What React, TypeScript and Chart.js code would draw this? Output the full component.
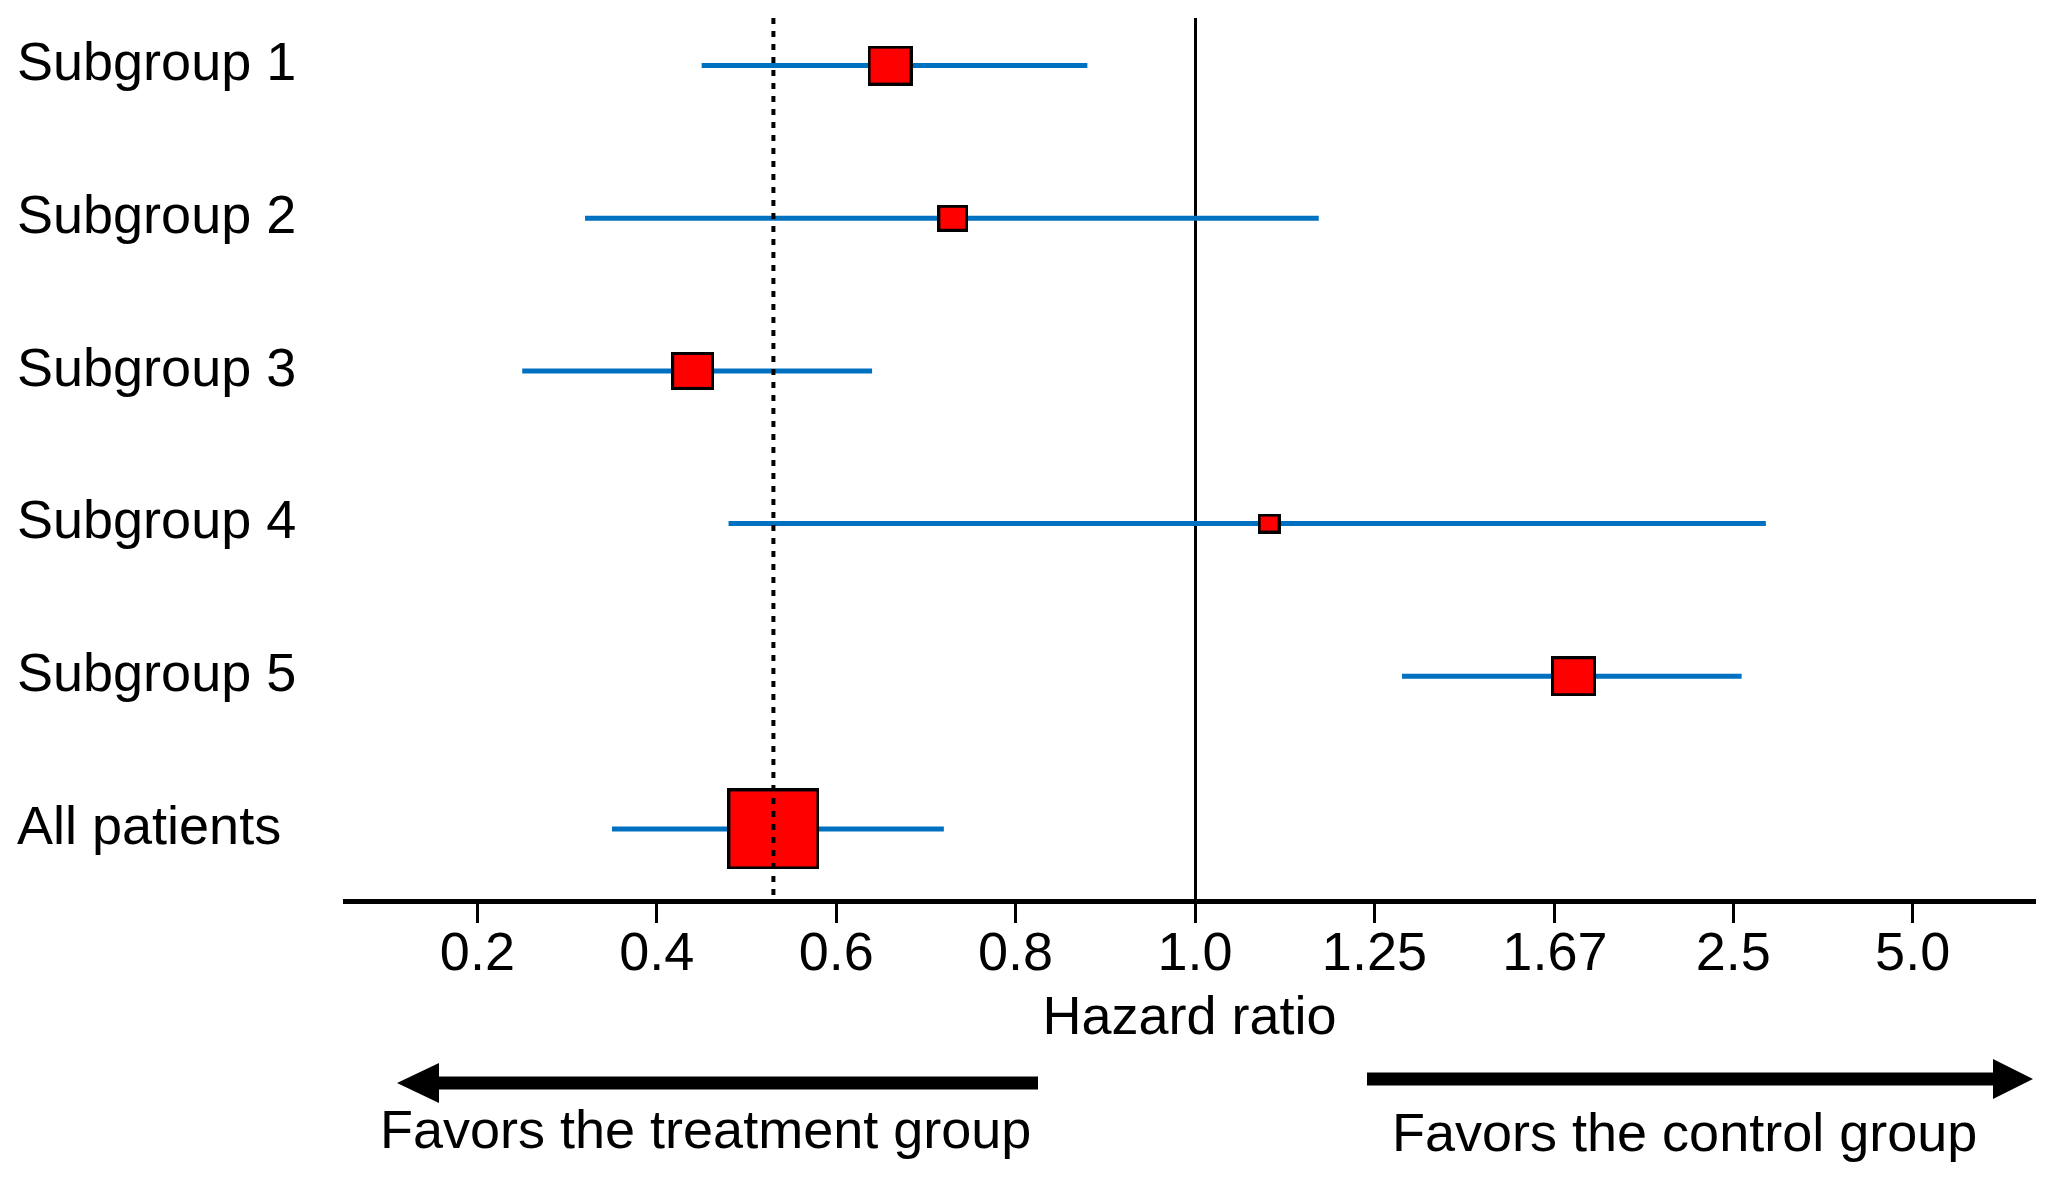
import { useEffect, useRef } from 'react';
import { Chart, registerables } from 'chart.js';

Chart.register(...registerables);

// ---------- data ----------
const rowLabels = ['Subgroup 1', 'Subgroup 2', 'Subgroup 3', 'Subgroup 4', 'Subgroup 5', 'All patients'];
const hazardRatio = [0.66, 0.73, 0.44, 1.09, 1.73, 0.53];
const ciLower = [0.45, 0.32, 0.25, 0.48, 1.3, 0.35];
const ciUpper = [0.88, 1.16, 0.64, 2.75, 2.56, 0.72];
const weights = [24, 11, 22, 6, 24, 100];
const tickValues = [0.2, 0.4, 0.6, 0.8, 1.0, 1.25, 1.67, 2.5, 5.0];
const tickLabels = ['0.2', '0.4', '0.6', '0.8', '1.0', '1.25', '1.67', '2.5', '5.0'];
const overallHR = hazardRatio[5];

// axis transform: HR <= 1 on a linear scale, HR > 1 mirrored as 2 - 1/HR
const toAxis = (hr: number) => (hr <= 1 ? hr : 2 - 1 / hr);

const X_MIN = 0.0524;
const X_MAX = 1.9353;
const Y_MIN = -0.3116;
const Y_MAX = 5.4724;

const FONT = '"Liberation Sans", Arial, sans-serif';
const BLUE = '#0070C0';

function makeBox(weight: number): HTMLCanvasElement {
  const f = Math.sqrt(weight / 100);
  const w = Math.round(92 * f);
  const h = Math.round(81 * f);
  const c = document.createElement('canvas');
  c.width = w;
  c.height = h;
  const g = c.getContext('2d')!;
  g.fillStyle = '#FF0000';
  g.fillRect(0, 0, w, h);
  g.strokeStyle = '#000000';
  g.lineWidth = 3;
  g.strokeRect(1.5, 1.5, w - 3, h - 3);
  return c;
}

const favorsPlugin = {
  id: 'favors',
  afterDraw(chart: any) {
    const ctx = chart.ctx as CanvasRenderingContext2D;
    ctx.save();
    ctx.fillStyle = '#000';
    // left arrow
    ctx.fillRect(429, 1068.5, 1030 - 429, 13);
    ctx.beginPath();
    ctx.moveTo(389, 1075);
    ctx.lineTo(431, 1055);
    ctx.lineTo(431, 1095);
    ctx.closePath();
    ctx.fill();
    // right arrow
    ctx.fillRect(1359, 1064.5, 1987 - 1359, 13);
    ctx.beginPath();
    ctx.moveTo(2025, 1071);
    ctx.lineTo(1985, 1051);
    ctx.lineTo(1985, 1091);
    ctx.closePath();
    ctx.fill();
    ctx.font = `54px ${FONT}`;
    ctx.textAlign = 'left';
    ctx.textBaseline = 'alphabetic';
    ctx.fillText('Favors the treatment group', 372, 1140);
    ctx.fillText('Favors the control group', 1384, 1143);
    ctx.restore();
  },
};

export default function App() {
  const ref = useRef<HTMLCanvasElement>(null);

  useEffect(() => {
    const boxes = weights.map(makeBox);
    const ciSets = rowLabels.map((_, i) => ({
      label: `ci-${i}`,
      data: [
        { x: toAxis(ciLower[i]), y: i },
        { x: toAxis(ciUpper[i]), y: i },
      ],
      showLine: true,
      borderColor: BLUE,
      borderWidth: 5,
      borderCapStyle: 'butt' as const,
      pointRadius: 0,
      order: 2,
    }));

    const chart = new Chart(ref.current!, {
      type: 'scatter',
      data: {
        datasets: [
          {
            label: 'overall',
            data: [
              { x: toAxis(overallHR), y: Y_MIN },
              { x: toAxis(overallHR), y: Y_MAX },
            ],
            showLine: true,
            borderColor: '#000',
            borderWidth: 4,
            borderDash: [6, 7],
            pointRadius: 0,
            order: 0,
          } as any,
          {
            label: 'hr',
            data: hazardRatio.map((hr, i) => ({ x: toAxis(hr), y: i })),
            pointStyle: (c: any) => boxes[c.dataIndex],
            pointRadius: 10,
            pointBorderWidth: 0,
            showLine: false,
            order: 1,
          } as any,
          ...ciSets,
        ],
      },
      options: {
        animation: false,
        responsive: true,
        maintainAspectRatio: false,
        events: [],
        layout: { padding: { left: 9, right: 10, top: 4, bottom: 0 } },
        plugins: { legend: { display: false }, tooltip: { enabled: false } },
        scales: {
          x: {
            type: 'linear',
            min: X_MIN,
            max: X_MAX,
            afterBuildTicks: (s: any) => {
              s.ticks = tickValues.map((v) => ({ value: toAxis(v) }));
            },
            afterFit: (s: any) => {
              s.height = 271;
              s.paddingLeft = 0;
              s.paddingRight = 0;
            },
            ticks: {
              autoSkip: false,
              maxRotation: 0,
              padding: 0,
              color: '#000',
              font: { family: FONT, size: 54, lineHeight: 1.2 },
              callback: (_v: any, idx: number) => tickLabels[idx],
            },
            grid: {
              drawOnChartArea: true,
              drawTicks: true,
              tickLength: 22,
              tickColor: '#000',
              tickWidth: 3,
              lineWidth: 3,
              color: (c: any) => (c.tick && Math.abs(c.tick.value - 1) < 1e-9 ? '#000' : 'rgba(0,0,0,0)'),
            },
            border: { display: true, color: '#000', width: 5 },
            title: {
              display: true,
              text: 'Hazard ratio',
              color: '#000',
              font: { family: FONT, size: 54, lineHeight: 1.2 },
              padding: { top: 0, bottom: 120 },
            },
          },
          y: {
            type: 'linear',
            reverse: true,
            min: Y_MIN,
            max: Y_MAX,
            afterBuildTicks: (s: any) => {
              s.ticks = rowLabels.map((_, i) => ({ value: i }));
            },
            afterFit: (s: any) => {
              s.width = 328;
              s.paddingTop = 0;
              s.paddingBottom = 0;
            },
            ticks: {
              crossAlign: 'far',
              color: '#000',
              font: { family: FONT, size: 54, lineHeight: 1.2 },
              callback: (_v: any, idx: number) => rowLabels[idx],
            },
            grid: { display: false },
            border: { display: false },
          },
        },
      },
      plugins: [favorsPlugin],
    } as any);
    return () => chart.destroy();
  }, []);

  return (
    <div style={{ position: 'relative', width: 2036, height: 1164 }}>
      <canvas ref={ref} style={{ display: 'block' }} />
    </div>
  );
}
